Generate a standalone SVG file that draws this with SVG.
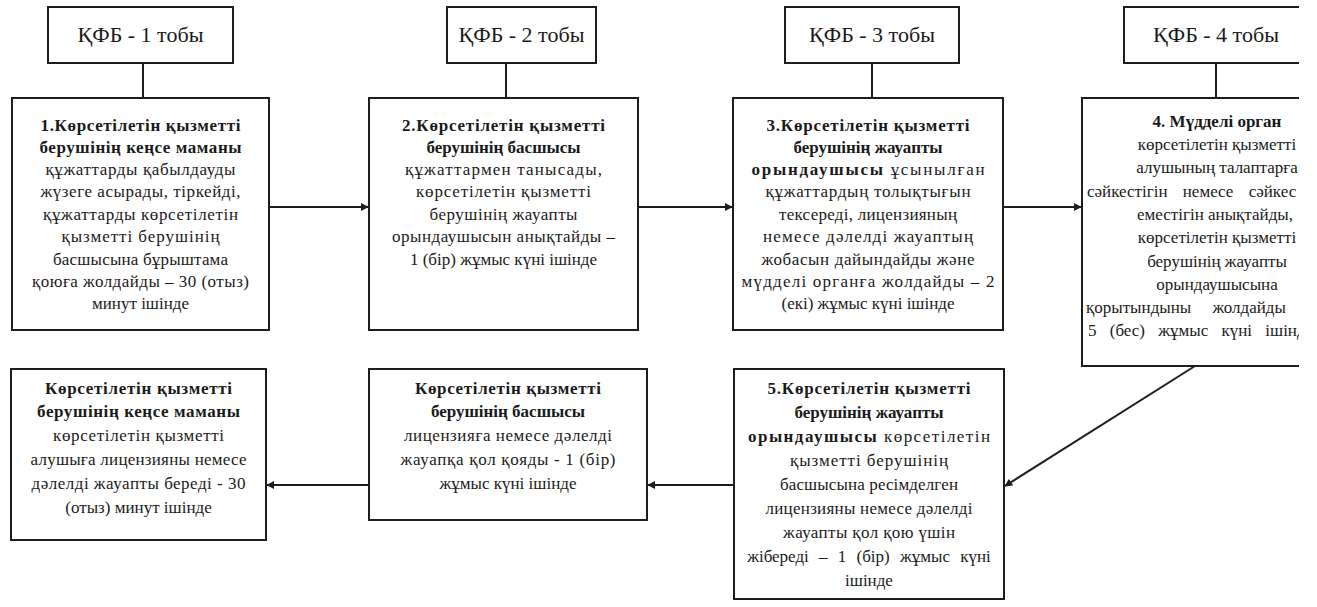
<svg xmlns="http://www.w3.org/2000/svg" width="1317" height="607" viewBox="0 0 1317 607">
  <style>
    .box { fill: #ffffff; stroke: #1e1e1e; stroke-width: 2; }
    .link { fill: none; stroke: #1e1e1e; stroke-width: 2; }
    .hdr { font-family: "Liberation Serif", "DejaVu Serif", serif; font-size: 22px; fill: #1a1a1a; text-anchor: middle; }
    .t { font-family: "Liberation Serif", "DejaVu Serif", serif; font-size: 17px; fill: #1a1a1a; text-anchor: middle; }
    .l { text-anchor: start; }
    .b { font-weight: bold; }
  </style>
  <defs>
    <marker id="arrow" viewBox="0 0 10 10" refX="9" refY="5" markerWidth="8" markerHeight="8" markerUnits="userSpaceOnUse" orient="auto">
      <path d="M0,0 L10,5 L0,10 z" fill="#1e1e1e"/>
    </marker>
    <clipPath id="page">
      <rect x="0" y="0" width="1299" height="607"/>
    </clipPath>
  </defs>
  <rect x="0" y="0" width="1317" height="607" fill="#ffffff"/>

  <g clip-path="url(#page)">
    <!-- group headers -->
    <g id="group1">
      <rect class="box" x="48" y="7" width="185" height="56"/>
      <text class="hdr" x="140.5" y="42">ҚФБ - 1 тобы</text>
    </g>
    <g id="group2">
      <rect class="box" x="447" y="7" width="149" height="56"/>
      <text class="hdr" x="521.5" y="42">ҚФБ - 2 тобы</text>
    </g>
    <g id="group3">
      <rect class="box" x="785" y="7" width="174" height="56"/>
      <text class="hdr" x="872" y="42">ҚФБ - 3 тобы</text>
    </g>
    <g id="group4">
      <rect class="box" x="1124" y="7" width="190" height="56"/>
      <text class="hdr" x="1216" y="42">ҚФБ - 4 тобы</text>
    </g>

    <!-- step 1: office specialist registers documents -->
    <g id="step1">
      <rect class="box" x="12" y="98" width="257" height="232"/>
      <text class="t b" x="140.5" y="131" textLength="200" lengthAdjust="spacing">1.Көрсетілетін қызметті</text>
      <text class="t b" x="140.5" y="153" textLength="202" lengthAdjust="spacing">берушінің кеңсе маманы</text>
      <text class="t" x="140.5" y="175" textLength="190" lengthAdjust="spacing">құжаттарды қабылдауды</text>
      <text class="t" x="140.5" y="197" textLength="200" lengthAdjust="spacing">жүзеге асырады, тіркейді,</text>
      <text class="t" x="140.5" y="220" textLength="195" lengthAdjust="spacing">құжаттарды көрсетілетін</text>
      <text class="t" x="140.5" y="242" textLength="158" lengthAdjust="spacing">қызметті берушінің</text>
      <text class="t" x="140.5" y="265" textLength="175" lengthAdjust="spacing">басшысына бұрыштама</text>
      <text class="t" x="140.5" y="287" textLength="217" lengthAdjust="spacing">қоюға жолдайды – 30 (отыз)</text>
      <text class="t" x="140.5" y="309">минут ішінде</text>
    </g>

    <!-- step 2: head of the service provider -->
    <g id="step2">
      <rect class="box" x="369" y="98" width="269" height="232"/>
      <text class="t b" x="503.5" y="131" textLength="203" lengthAdjust="spacing">2.Көрсетілетін қызметті</text>
      <text class="t b" x="503.5" y="153">берушінің басшысы</text>
      <text class="t" x="503.5" y="175" textLength="197" lengthAdjust="spacing">құжаттармен танысады,</text>
      <text class="t" x="503.5" y="197" textLength="175" lengthAdjust="spacing">көрсетілетін қызметті</text>
      <text class="t" x="503.5" y="220" textLength="148" lengthAdjust="spacing">берушінің жауапты</text>
      <text class="t" x="503.5" y="242" textLength="223" lengthAdjust="spacing">орындаушысын анықтайды –</text>
      <text class="t" x="503.5" y="265">1 (бір) жұмыс күні ішінде</text>
    </g>

    <!-- step 3: responsible executor checks the documents -->
    <g id="step3">
      <rect class="box" x="733" y="98" width="270" height="232"/>
      <text class="t b" x="868" y="131" textLength="203" lengthAdjust="spacing">3.Көрсетілетін қызметті</text>
      <text class="t b" x="868" y="153">берушінің жауапты</text>
      <text class="t" x="868" y="175" textLength="233" lengthAdjust="spacing"><tspan class="b">орындаушысы</tspan> ұсынылған</text>
      <text class="t" x="868" y="197" textLength="205" lengthAdjust="spacing">құжаттардың толықтығын</text>
      <text class="t" x="868" y="220" textLength="178" lengthAdjust="spacing">тексереді, лицензияның</text>
      <text class="t" x="868" y="242" textLength="210" lengthAdjust="spacing">немесе дәлелді жауаптың</text>
      <text class="t" x="868" y="265" textLength="213" lengthAdjust="spacing">жобасын дайындайды және</text>
      <text class="t" x="868" y="287" textLength="253" lengthAdjust="spacing">мүдделі органға жолдайды – 2</text>
      <text class="t" x="868" y="309">(екі) жұмыс күні ішінде</text>
    </g>

    <!-- step 4: interested authority (box runs past the right edge) -->
    <g id="step4">
      <rect class="box" x="1082" y="98" width="270" height="268"/>
      <text class="t b" x="1217" y="127">4. Мүдделі орган</text>
      <text class="t" x="1217" y="150">көрсетілетін қызметті</text>
      <text class="t" x="1217" y="173">алушының талаптарға</text>
      <text class="t l" x="1087" y="197" word-spacing="11">сәйкестігін немесе сәйкес</text>
      <text class="t" x="1215" y="220">еместігін анықтайды,</text>
      <text class="t" x="1217" y="243">көрсетілетін қызметті</text>
      <text class="t" x="1217" y="267">берушінің жауапты</text>
      <text class="t" x="1217" y="290">орындаушысына</text>
      <text class="t l" x="1086" y="313" word-spacing="17">қорытындыны жолдайды –</text>
      <text class="t l" x="1088" y="336" word-spacing="9">5 (бес) жұмыс күні ішінде</text>
    </g>
  </g>

  <!-- step 5: executor sends the prepared licence for signing -->
  <g id="step5">
    <rect class="box" x="734" y="369" width="270" height="230"/>
    <text class="t b" x="869" y="394" textLength="203" lengthAdjust="spacing">5.Көрсетілетін қызметті</text>
    <text class="t b" x="869" y="418">берушінің жауапты</text>
    <text class="t" x="869" y="442" textLength="242" lengthAdjust="spacing"><tspan class="b">орындаушысы</tspan> көрсетілетін</text>
    <text class="t" x="869" y="466" textLength="158" lengthAdjust="spacing">қызметті берушінің</text>
    <text class="t" x="869" y="490" textLength="178" lengthAdjust="spacing">басшысына ресімделген</text>
    <text class="t" x="869" y="514" textLength="207" lengthAdjust="spacing">лицензияны немесе дәлелді</text>
    <text class="t" x="869" y="538" textLength="172" lengthAdjust="spacing">жауапты қол қою үшін</text>
    <text class="t" x="869" y="562" word-spacing="6">жібереді – 1 (бір) жұмыс күні</text>
    <text class="t" x="869" y="586">ішінде</text>
  </g>

  <!-- step 6: head signs the licence -->
  <g id="step6">
    <rect class="box" x="369" y="369" width="278" height="151"/>
    <text class="t b" x="508" y="394" textLength="186" lengthAdjust="spacing">Көрсетілетін қызметті</text>
    <text class="t b" x="508" y="417">берушінің басшысы</text>
    <text class="t" x="508" y="441" textLength="208" lengthAdjust="spacing">лицензияға немесе дәлелді</text>
    <text class="t" x="508" y="465" textLength="215" lengthAdjust="spacing">жауапқа қол қояды - 1 (бір)</text>
    <text class="t" x="508" y="489">жұмыс күні ішінде</text>
  </g>

  <!-- step 7: office specialist issues the licence -->
  <g id="step7">
    <rect class="box" x="11" y="369" width="255" height="171"/>
    <text class="t b" x="138.5" y="394" textLength="187" lengthAdjust="spacing">Көрсетілетін қызметті</text>
    <text class="t b" x="138.5" y="417" textLength="203" lengthAdjust="spacing">берушінің кеңсе маманы</text>
    <text class="t" x="138.5" y="441" textLength="171" lengthAdjust="spacing">көрсетілетін қызметті</text>
    <text class="t" x="138.5" y="465" textLength="216" lengthAdjust="spacing">алушыға лицензияны немесе</text>
    <text class="t" x="138.5" y="489" textLength="214" lengthAdjust="spacing">дәлелді жауапты береді - 30</text>
    <text class="t" x="138.5" y="513">(отыз) минут ішінде</text>
  </g>

  <!-- connectors -->
  <g id="connectors">
    <line class="link" x1="143" y1="63" x2="143" y2="98"/>
    <line class="link" x1="506" y1="63" x2="506" y2="98"/>
    <line class="link" x1="872" y1="63" x2="872" y2="98"/>
    <line class="link" x1="1216" y1="63" x2="1216" y2="98"/>
    <line class="link" x1="269" y1="207" x2="368" y2="207" marker-end="url(#arrow)"/>
    <line class="link" x1="638" y1="207" x2="732" y2="207" marker-end="url(#arrow)"/>
    <line class="link" x1="1003" y1="207" x2="1081" y2="207" marker-end="url(#arrow)"/>
    <line class="link" x1="1195" y1="366" x2="1005" y2="486" marker-end="url(#arrow)"/>
    <line class="link" x1="734" y1="485" x2="648" y2="485" marker-end="url(#arrow)"/>
    <line class="link" x1="369" y1="485" x2="267" y2="485" marker-end="url(#arrow)"/>
  </g>
</svg>
